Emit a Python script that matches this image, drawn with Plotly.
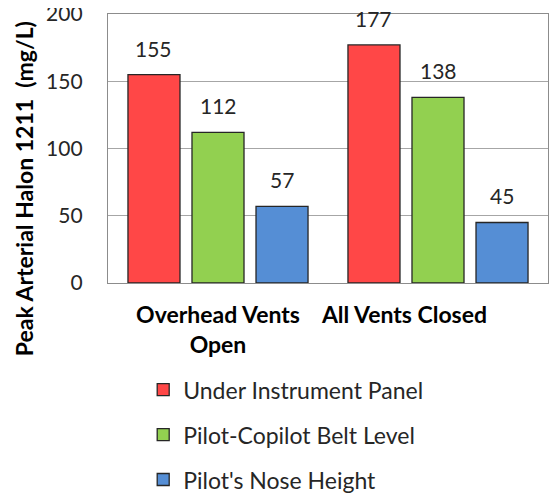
import plotly.graph_objects as go

# Data
categories = ["Overhead Vents<br>Open", "All Vents Closed"]
series_names = ["Under Instrument Panel", "Pilot-Copilot Belt Level", "Pilot's Nose Height"]
under_panel = [155, 177]
belt_level = [112, 138]
nose_height = [57, 45]
y_ticks = [0, 50, 100, 150, 200]
y_title = "Peak Arterial Halon 1211  (mg/L)"

colors = ["#FF4747", "#92D050", "#558ED5"]
series_values = [under_panel, belt_level, nose_height]

font_name = "Lato"
bargap = 0.127

fig = go.Figure()
for i, (name, vals) in enumerate(zip(series_names, series_values)):
    fig.add_trace(go.Bar(
        x=[0, 1], y=vals, name=name,
        marker=dict(color=colors[i], line=dict(color="#262626", width=1.3)),
        legendgroup=name,
    ))
    # value labels above bars
    offset = (i - 1) * (1 - bargap) / 3
    for xi, v in enumerate(vals):
        fig.add_annotation(x=xi + offset, y=v, text=str(v), showarrow=False,
                           yanchor="bottom", yshift=12,
                           font=dict(family=font_name, size=21, color="#262626"))

# y title sits lower than the axis middle in the original
fig.add_annotation(text=y_title, xref="paper", yref="paper", x=-0.191, y=0.352,
                   textangle=-90, showarrow=False, xanchor="center", yanchor="middle",
                   font=dict(family=font_name, size=23, color="black", weight="bold"))

# second label sits left of its category in the original
tick_text = [categories[0], categories[1] + "\u00a0" * 12]

# page body has an 8px margin, so the figure is a bit smaller than the window
fig.update_layout(
    width=551, height=486,
    margin=dict(l=100, r=11, t=6, b=211, autoexpand=False),
    paper_bgcolor="white", plot_bgcolor="white",
    barmode="group", bargap=bargap, bargroupgap=0.1875,
    font=dict(family=font_name, color="#262626"),
    showlegend=True,
    legend=dict(
        orientation="v", x=0.08, xanchor="left", y=-0.317, yanchor="top",
        font=dict(family=font_name, size=23, color="#262626"),
        tracegroupgap=12, itemwidth=30,
    ),
)
fig.update_xaxes(
    tickmode="array", tickvals=[0, 1], ticktext=tick_text,
    range=[-0.5, 1.5],
    tickfont=dict(family=font_name, size=23, color="black", weight="bold"),
    showline=True, linecolor="#8C8C8C", linewidth=1.3, mirror=True,
    ticks="", showgrid=False, ticklabelstandoff=11,
)
fig.update_yaxes(
    range=[0, 200], tickvals=y_ticks,
    tickfont=dict(family=font_name, size=21, color="#262626"),
    showgrid=True, gridcolor="#A6A6A6", gridwidth=1,
    showline=True, linecolor="#8C8C8C", linewidth=1.3, mirror=True,
    ticks="", ticklabelstandoff=20, zeroline=False, ticklabeloverflow="allow",
)

fig.write_html("out.html")
